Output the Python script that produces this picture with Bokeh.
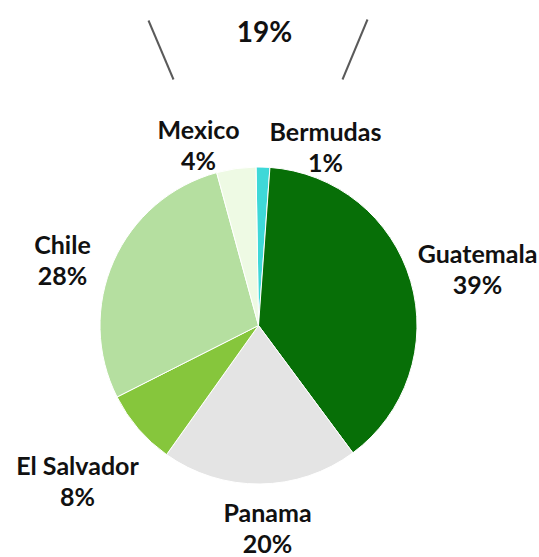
import math
from bokeh.plotting import figure
from bokeh.models import Range1d, ColumnDataSource
from bokeh.core.properties import value
from bokeh.embed import file_html
from bokeh.resources import INLINE

# ---- data ----
countries = ["Bermudas", "Guatemala", "Panama", "El Salvador", "Chile", "Mexico"]
shares = [1.4, 38.7, 20.0, 7.7, 28.2, 4.0]
pct_labels = ["1%", "39%", "20%", "8%", "28%", "4%"]
colors = ["#3ed8d8", "#076f07", "#e4e4e4", "#86c63c", "#b5dfa0", "#eefae4"]

# ---- layout (pixel-like data space, y up; y = H - picture row) ----
W, H = 539, 557
cx, cy, R = 258, 232, 158.5
first_angle = -0.9  # degrees clockwise from 12 o'clock
gap = 31
label_pos = {
    "Bermudas": (325, 427),
    "Guatemala": (477, 305),
    "Panama": (267, 46),
    "El Salvador": (77, 93),
    "Chile": (62, 314),
    "Mexico": (198, 429),
}

p = figure(width=W, height=H, output_backend="svg", toolbar_location=None,
           x_range=Range1d(0, W), y_range=Range1d(0, H), min_border=0)
p.axis.visible = False
p.grid.visible = False
p.outline_line_color = None
p.background_fill_color = "white"

total = sum(shares)
starts, ends = [], []
acc = first_angle
for s in shares:
    a0 = acc
    a1 = acc + s / total * 360.0
    starts.append(math.radians(90 - a0))
    ends.append(math.radians(90 - a1))
    acc = a1

src = ColumnDataSource(dict(start=starts, end=ends, color=colors))
p.wedge(x=cx, y=cy, radius=R, start_angle="start", end_angle="end",
        direction="clock", fill_color="color", line_color="white",
        line_width=1, source=src)

fs = "25px"
font = value("Lato")
lx = [label_pos[c][0] for c in countries]
ly = [label_pos[c][1] for c in countries]
p.text(x=lx, y=ly, text=countries, text_font=font, text_font_size=fs,
       text_font_style="bold", text_align="center", text_baseline="middle",
       text_color="#111111")
p.text(x=lx, y=[v - gap for v in ly], text=pct_labels, text_font=font,
       text_font_size=fs, text_font_style="bold", text_align="center",
       text_baseline="middle", text_color="#111111")

# fragment of the neighbouring chart above (cut off)
p.text(x=[264], y=[527], text=["19%"], text_font=font, text_font_size="28px",
       text_font_style="bold", text_align="center", text_baseline="middle",
       text_color="#111111")
p.segment(x0=[148, 367], y0=[537, 538], x1=[173, 342], y1=[478, 478],
          line_color="#5a5a5a", line_width=2)

open("out.html", "w").write(file_html(p, INLINE))
